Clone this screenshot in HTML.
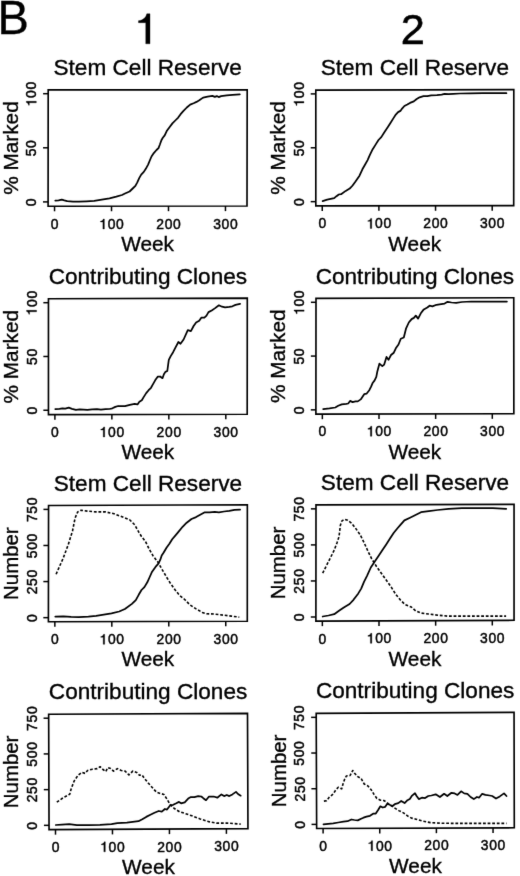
<!DOCTYPE html>
<html><head><meta charset="utf-8"><title>Figure B</title>
<style>
html,body{margin:0;padding:0;background:#fff;}
body{width:520px;height:876px;overflow:hidden;}
svg{display:block;}
.t{font-family:"Liberation Sans",sans-serif;fill:#000;stroke:#000;stroke-width:0.35px;}
.s{stroke-width:0.5px;}
.g{fill:#000;stroke:#000;stroke-width:0.35px;}
</style></head><body>
<svg width="520" height="876" viewBox="0 0 520 876">
<defs><filter id="soft" x="0" y="0" width="100%" height="100%" filterUnits="userSpaceOnUse" color-interpolation-filters="sRGB"><feConvolveMatrix order="3" kernelMatrix="0.0064 0.0672 0.0064 0.0672 0.7056 0.0672 0.0064 0.0672 0.0064" edgeMode="duplicate"/></filter></defs>
<g filter="url(#soft)">
<rect width="520" height="876" fill="#fff"/>
<text transform="translate(-2.6,33.6) scale(1,1.035)" font-size="47" class="t">B</text>
<path d="M149.98,43.80 L149.98,13.76 L146.82,13.76 C145.93,17.54 142.90,20.44 138.49,20.66 L138.49,22.71 L145.75,22.71 L145.75,43.80 Z" class="g"/>
<text x="412.9" y="44.2" font-size="43.3" class="t" text-anchor="middle" style="stroke-width:0.6px">2</text>
<path d="M48.20,89.90 L247.20,89.80 L247.00,206.00 L48.10,206.20 Z" fill="none" stroke="#000" stroke-width="1.65" stroke-linejoin="miter"/>
<line x1="54.55" y1="206.19" x2="54.55" y2="211.29" stroke="#000" stroke-width="1.5"/>
<g transform="translate(54.55,229.04) scale(1.0,0.98)"><text transform="translate(0.00,0) scale(0.92,1)" x="0" y="0" font-size="15.1" class="t s" text-anchor="middle">0</text></g>
<line x1="111.52" y1="206.14" x2="111.52" y2="211.24" stroke="#000" stroke-width="1.5"/>
<g transform="translate(111.52,228.99) scale(1.0,0.98)"><path d="M-7.17,0.00 L-7.17,-10.19 L-8.24,-10.19 C-8.55,-8.91 -9.57,-7.93 -11.07,-7.85 L-11.07,-7.16 L-8.61,-7.16 L-8.61,0.00 Z" class="g s"/><text transform="translate(0.00,0) scale(0.92,1)" x="0" y="0" font-size="15.1" class="t s" text-anchor="middle">0</text><text transform="translate(8.40,0) scale(0.92,1)" x="0" y="0" font-size="15.1" class="t s" text-anchor="middle">0</text></g>
<line x1="168.49" y1="206.08" x2="168.49" y2="211.18" stroke="#000" stroke-width="1.5"/>
<g transform="translate(168.49,228.93) scale(1.0,0.98)"><text transform="translate(-8.40,0) scale(0.92,1)" x="0" y="0" font-size="15.1" class="t s" text-anchor="middle">2</text><text transform="translate(0.00,0) scale(0.92,1)" x="0" y="0" font-size="15.1" class="t s" text-anchor="middle">0</text><text transform="translate(8.40,0) scale(0.92,1)" x="0" y="0" font-size="15.1" class="t s" text-anchor="middle">0</text></g>
<line x1="225.46" y1="206.02" x2="225.46" y2="211.12" stroke="#000" stroke-width="1.5"/>
<g transform="translate(225.46,228.87) scale(1.0,0.98)"><text transform="translate(-8.40,0) scale(0.92,1)" x="0" y="0" font-size="15.1" class="t s" text-anchor="middle">3</text><text transform="translate(0.00,0) scale(0.92,1)" x="0" y="0" font-size="15.1" class="t s" text-anchor="middle">0</text><text transform="translate(8.40,0) scale(0.92,1)" x="0" y="0" font-size="15.1" class="t s" text-anchor="middle">0</text></g>
<line x1="48.10" y1="201.90" x2="43.00" y2="201.90" stroke="#000" stroke-width="1.5"/>
<g transform="translate(36.20,202.35) rotate(-90) scale(1.0,0.98)"><text transform="translate(0.00,0) scale(0.92,1)" x="0" y="0" font-size="15.1" class="t s" text-anchor="middle">0</text></g>
<line x1="48.15" y1="147.80" x2="43.05" y2="147.80" stroke="#000" stroke-width="1.5"/>
<g transform="translate(36.25,148.25) rotate(-90) scale(1.0,0.98)"><text transform="translate(-4.20,0) scale(0.92,1)" x="0" y="0" font-size="15.1" class="t s" text-anchor="middle">5</text><text transform="translate(4.20,0) scale(0.92,1)" x="0" y="0" font-size="15.1" class="t s" text-anchor="middle">0</text></g>
<line x1="48.20" y1="93.70" x2="43.10" y2="93.70" stroke="#000" stroke-width="1.5"/>
<g transform="translate(36.30,94.15) rotate(-90) scale(1.0,0.98)"><path d="M-7.17,0.00 L-7.17,-10.19 L-8.24,-10.19 C-8.55,-8.91 -9.57,-7.93 -11.07,-7.85 L-11.07,-7.16 L-8.61,-7.16 L-8.61,0.00 Z" class="g s"/><text transform="translate(0.00,0) scale(0.92,1)" x="0" y="0" font-size="15.1" class="t s" text-anchor="middle">0</text><text transform="translate(8.40,0) scale(0.92,1)" x="0" y="0" font-size="15.1" class="t s" text-anchor="middle">0</text></g>
<text x="147.70" y="75.30" font-size="22.6" class="t" text-anchor="middle">Stem Cell Reserve</text>
<text x="147.55" y="251.30" font-size="20.8" class="t" text-anchor="middle">Week</text>
<text transform="translate(17.55,148.05) rotate(-90)" font-size="20.8" class="t" text-anchor="middle">% Marked</text>
<path d="M55.3,200.6 L58.6,200.4 L61.8,199.6 L64.3,200.4 L67.2,201.2 L73.0,201.7 L78.8,201.7 L86.5,201.3 L94.2,200.8 L101.8,199.6 L109.5,198.3 L116.3,196.7 L122.0,195.0 L125.0,193.5 L129.6,191.5 L132.7,188.5 L135.4,185.8 L137.3,182.3 L139.2,178.1 L141.2,174.6 L143.8,171.9 L145.8,168.8 L148.1,164.6 L150.0,160.0 L151.5,156.5 L153.8,153.1 L156.5,150.0 L158.5,148.1 L159.9,144.5 L161.4,140.2 L162.8,137.8 L164.7,135.4 L166.7,131.1 L169.5,127.2 L172.4,123.4 L175.3,120.5 L178.2,117.6 L180.6,114.2 L183.5,110.9 L186.8,107.5 L190.2,104.6 L193.6,103.2 L196.5,101.9 L199.3,100.3 L202.7,97.9 L204.3,97.3 L207.6,96.6 L212.4,95.9 L214.8,96.9 L216.8,96.1 L218.7,97.1 L221.1,96.1 L226.8,95.3 L232.6,94.8 L239.8,94.4" fill="none" stroke="#000" stroke-width="1.75" stroke-linejoin="round" stroke-linecap="round"/>
<path d="M315.80,90.15 L513.80,89.55 L513.70,205.60 L315.80,205.80 Z" fill="none" stroke="#000" stroke-width="1.65" stroke-linejoin="miter"/>
<line x1="322.25" y1="205.79" x2="322.25" y2="210.89" stroke="#000" stroke-width="1.5"/>
<g transform="translate(322.25,228.44) scale(1.0,0.98)"><text transform="translate(0.00,0) scale(0.92,1)" x="0" y="0" font-size="15.1" class="t s" text-anchor="middle">0</text></g>
<line x1="378.90" y1="205.74" x2="378.90" y2="210.84" stroke="#000" stroke-width="1.5"/>
<g transform="translate(378.90,228.39) scale(1.0,0.98)"><path d="M-7.17,0.00 L-7.17,-10.19 L-8.24,-10.19 C-8.55,-8.91 -9.57,-7.93 -11.07,-7.85 L-11.07,-7.16 L-8.61,-7.16 L-8.61,0.00 Z" class="g s"/><text transform="translate(0.00,0) scale(0.92,1)" x="0" y="0" font-size="15.1" class="t s" text-anchor="middle">0</text><text transform="translate(8.40,0) scale(0.92,1)" x="0" y="0" font-size="15.1" class="t s" text-anchor="middle">0</text></g>
<line x1="435.55" y1="205.68" x2="435.55" y2="210.78" stroke="#000" stroke-width="1.5"/>
<g transform="translate(435.55,228.33) scale(1.0,0.98)"><text transform="translate(-8.40,0) scale(0.92,1)" x="0" y="0" font-size="15.1" class="t s" text-anchor="middle">2</text><text transform="translate(0.00,0) scale(0.92,1)" x="0" y="0" font-size="15.1" class="t s" text-anchor="middle">0</text><text transform="translate(8.40,0) scale(0.92,1)" x="0" y="0" font-size="15.1" class="t s" text-anchor="middle">0</text></g>
<line x1="492.20" y1="205.62" x2="492.20" y2="210.72" stroke="#000" stroke-width="1.5"/>
<g transform="translate(492.20,228.27) scale(1.0,0.98)"><text transform="translate(-8.40,0) scale(0.92,1)" x="0" y="0" font-size="15.1" class="t s" text-anchor="middle">3</text><text transform="translate(0.00,0) scale(0.92,1)" x="0" y="0" font-size="15.1" class="t s" text-anchor="middle">0</text><text transform="translate(8.40,0) scale(0.92,1)" x="0" y="0" font-size="15.1" class="t s" text-anchor="middle">0</text></g>
<line x1="315.80" y1="201.65" x2="310.70" y2="201.65" stroke="#000" stroke-width="1.5"/>
<g transform="translate(303.90,202.10) rotate(-90) scale(1.0,0.98)"><text transform="translate(0.00,0) scale(0.92,1)" x="0" y="0" font-size="15.1" class="t s" text-anchor="middle">0</text></g>
<line x1="315.80" y1="147.78" x2="310.70" y2="147.78" stroke="#000" stroke-width="1.5"/>
<g transform="translate(303.90,148.22) rotate(-90) scale(1.0,0.98)"><text transform="translate(-4.20,0) scale(0.92,1)" x="0" y="0" font-size="15.1" class="t s" text-anchor="middle">5</text><text transform="translate(4.20,0) scale(0.92,1)" x="0" y="0" font-size="15.1" class="t s" text-anchor="middle">0</text></g>
<line x1="315.80" y1="93.90" x2="310.70" y2="93.90" stroke="#000" stroke-width="1.5"/>
<g transform="translate(303.90,94.35) rotate(-90) scale(1.0,0.98)"><path d="M-7.17,0.00 L-7.17,-10.19 L-8.24,-10.19 C-8.55,-8.91 -9.57,-7.93 -11.07,-7.85 L-11.07,-7.16 L-8.61,-7.16 L-8.61,0.00 Z" class="g s"/><text transform="translate(0.00,0) scale(0.92,1)" x="0" y="0" font-size="15.1" class="t s" text-anchor="middle">0</text><text transform="translate(8.40,0) scale(0.92,1)" x="0" y="0" font-size="15.1" class="t s" text-anchor="middle">0</text></g>
<text x="414.80" y="75.30" font-size="22.6" class="t" text-anchor="middle">Stem Cell Reserve</text>
<text x="414.75" y="250.55" font-size="20.8" class="t" text-anchor="middle">Week</text>
<text transform="translate(285.20,147.98) rotate(-90)" font-size="20.8" class="t" text-anchor="middle">% Marked</text>
<path d="M322.6,201.1 L327.2,199.7 L334.2,198.2 L336.5,196.2 L338.8,194.5 L341.1,194.2 L345.7,190.9 L349.7,188.6 L352.6,185.5 L355.5,181.5 L359.5,175.7 L362.4,169.3 L364.7,165.3 L367.6,160.1 L369.9,154.9 L372.7,149.2 L375.6,144.6 L378.5,140.0 L381.3,137.1 L384.2,132.5 L387.7,127.3 L390.6,122.7 L393.5,118.1 L395.8,114.6 L398.1,112.1 L400.4,110.9 L402.1,108.6 L404.4,106.0 L407.3,104.5 L410.0,102.9 L413.8,101.4 L416.7,99.0 L419.6,97.3 L423.5,96.1 L427.3,96.1 L431.2,95.4 L436.9,95.1 L441.7,94.7 L444.6,93.9 L448.5,94.2 L453.3,93.9 L460.0,93.5 L470.0,93.3 L482.7,93.2 L506.4,93.2" fill="none" stroke="#000" stroke-width="1.75" stroke-linejoin="round" stroke-linecap="round"/>
<path d="M48.45,298.75 L247.30,298.20 L247.20,414.20 L48.45,414.60 Z" fill="none" stroke="#000" stroke-width="1.65" stroke-linejoin="miter"/>
<line x1="54.90" y1="414.59" x2="54.90" y2="419.69" stroke="#000" stroke-width="1.5"/>
<g transform="translate(54.90,437.09) scale(1.0,0.98)"><text transform="translate(0.00,0) scale(0.92,1)" x="0" y="0" font-size="15.1" class="t s" text-anchor="middle">0</text></g>
<line x1="111.87" y1="414.47" x2="111.87" y2="419.57" stroke="#000" stroke-width="1.5"/>
<g transform="translate(111.87,436.97) scale(1.0,0.98)"><path d="M-7.17,0.00 L-7.17,-10.19 L-8.24,-10.19 C-8.55,-8.91 -9.57,-7.93 -11.07,-7.85 L-11.07,-7.16 L-8.61,-7.16 L-8.61,0.00 Z" class="g s"/><text transform="translate(0.00,0) scale(0.92,1)" x="0" y="0" font-size="15.1" class="t s" text-anchor="middle">0</text><text transform="translate(8.40,0) scale(0.92,1)" x="0" y="0" font-size="15.1" class="t s" text-anchor="middle">0</text></g>
<line x1="168.84" y1="414.36" x2="168.84" y2="419.46" stroke="#000" stroke-width="1.5"/>
<g transform="translate(168.84,436.86) scale(1.0,0.98)"><text transform="translate(-8.40,0) scale(0.92,1)" x="0" y="0" font-size="15.1" class="t s" text-anchor="middle">2</text><text transform="translate(0.00,0) scale(0.92,1)" x="0" y="0" font-size="15.1" class="t s" text-anchor="middle">0</text><text transform="translate(8.40,0) scale(0.92,1)" x="0" y="0" font-size="15.1" class="t s" text-anchor="middle">0</text></g>
<line x1="225.81" y1="414.24" x2="225.81" y2="419.34" stroke="#000" stroke-width="1.5"/>
<g transform="translate(225.81,436.74) scale(1.0,0.98)"><text transform="translate(-8.40,0) scale(0.92,1)" x="0" y="0" font-size="15.1" class="t s" text-anchor="middle">3</text><text transform="translate(0.00,0) scale(0.92,1)" x="0" y="0" font-size="15.1" class="t s" text-anchor="middle">0</text><text transform="translate(8.40,0) scale(0.92,1)" x="0" y="0" font-size="15.1" class="t s" text-anchor="middle">0</text></g>
<line x1="48.45" y1="410.25" x2="43.35" y2="410.25" stroke="#000" stroke-width="1.5"/>
<g transform="translate(36.55,410.70) rotate(-90) scale(1.0,0.98)"><text transform="translate(0.00,0) scale(0.92,1)" x="0" y="0" font-size="15.1" class="t s" text-anchor="middle">0</text></g>
<line x1="48.45" y1="356.48" x2="43.35" y2="356.48" stroke="#000" stroke-width="1.5"/>
<g transform="translate(36.55,356.93) rotate(-90) scale(1.0,0.98)"><text transform="translate(-4.20,0) scale(0.92,1)" x="0" y="0" font-size="15.1" class="t s" text-anchor="middle">5</text><text transform="translate(4.20,0) scale(0.92,1)" x="0" y="0" font-size="15.1" class="t s" text-anchor="middle">0</text></g>
<line x1="48.45" y1="302.70" x2="43.35" y2="302.70" stroke="#000" stroke-width="1.5"/>
<g transform="translate(36.55,303.15) rotate(-90) scale(1.0,0.98)"><path d="M-7.17,0.00 L-7.17,-10.19 L-8.24,-10.19 C-8.55,-8.91 -9.57,-7.93 -11.07,-7.85 L-11.07,-7.16 L-8.61,-7.16 L-8.61,0.00 Z" class="g s"/><text transform="translate(0.00,0) scale(0.92,1)" x="0" y="0" font-size="15.1" class="t s" text-anchor="middle">0</text><text transform="translate(8.40,0) scale(0.92,1)" x="0" y="0" font-size="15.1" class="t s" text-anchor="middle">0</text></g>
<text x="147.88" y="283.93" font-size="22.6" class="t" text-anchor="middle">Contributing Clones</text>
<text x="147.82" y="459.25" font-size="20.8" class="t" text-anchor="middle">Week</text>
<text transform="translate(17.85,356.68) rotate(-90)" font-size="20.8" class="t" text-anchor="middle">% Marked</text>
<path d="M55.3,409.2 L59.5,408.8 L62.4,408.3 L65.3,408.7 L68.8,407.7 L72.0,408.8 L75.9,409.8 L79.7,409.4 L83.6,409.6 L87.4,409.8 L92.2,409.4 L97.0,409.2 L100.9,409.6 L105.7,409.2 L109.5,409.0 L112.4,408.3 L115.3,406.9 L118.2,406.0 L122.0,406.2 L125.0,406.1 L129.8,404.8 L134.6,403.8 L137.5,404.4 L139.4,401.7 L141.8,400.3 L143.8,396.9 L146.2,393.1 L148.6,390.2 L151.0,387.8 L152.9,384.4 L155.3,380.1 L157.7,376.7 L160.1,376.5 L162.5,378.2 L163.9,374.3 L165.4,371.9 L167.3,371.0 L168.8,359.9 L170.7,356.1 L173.1,352.2 L175.3,347.8 L178.4,342.0 L180.5,343.7 L183.6,339.5 L187.8,330.2 L190.9,331.2 L193.6,326.0 L196.1,322.5 L199.2,320.8 L201.3,317.7 L204.4,317.7 L206.5,315.7 L208.5,312.1 L211.7,310.5 L214.8,308.4 L218.9,305.3 L222.0,306.7 L225.1,307.3 L229.3,306.9 L232.4,306.3 L235.5,304.9 L240.1,303.8" fill="none" stroke="#000" stroke-width="1.75" stroke-linejoin="round" stroke-linecap="round"/>
<path d="M316.00,298.35 L513.75,297.75 L513.85,413.70 L315.90,414.10 Z" fill="none" stroke="#000" stroke-width="1.65" stroke-linejoin="miter"/>
<line x1="322.35" y1="414.09" x2="322.35" y2="419.19" stroke="#000" stroke-width="1.5"/>
<g transform="translate(322.35,436.34) scale(1.0,0.98)"><text transform="translate(0.00,0) scale(0.92,1)" x="0" y="0" font-size="15.1" class="t s" text-anchor="middle">0</text></g>
<line x1="379.00" y1="413.97" x2="379.00" y2="419.07" stroke="#000" stroke-width="1.5"/>
<g transform="translate(379.00,436.22) scale(1.0,0.98)"><path d="M-7.17,0.00 L-7.17,-10.19 L-8.24,-10.19 C-8.55,-8.91 -9.57,-7.93 -11.07,-7.85 L-11.07,-7.16 L-8.61,-7.16 L-8.61,0.00 Z" class="g s"/><text transform="translate(0.00,0) scale(0.92,1)" x="0" y="0" font-size="15.1" class="t s" text-anchor="middle">0</text><text transform="translate(8.40,0) scale(0.92,1)" x="0" y="0" font-size="15.1" class="t s" text-anchor="middle">0</text></g>
<line x1="435.65" y1="413.86" x2="435.65" y2="418.96" stroke="#000" stroke-width="1.5"/>
<g transform="translate(435.65,436.11) scale(1.0,0.98)"><text transform="translate(-8.40,0) scale(0.92,1)" x="0" y="0" font-size="15.1" class="t s" text-anchor="middle">2</text><text transform="translate(0.00,0) scale(0.92,1)" x="0" y="0" font-size="15.1" class="t s" text-anchor="middle">0</text><text transform="translate(8.40,0) scale(0.92,1)" x="0" y="0" font-size="15.1" class="t s" text-anchor="middle">0</text></g>
<line x1="492.30" y1="413.74" x2="492.30" y2="418.84" stroke="#000" stroke-width="1.5"/>
<g transform="translate(492.30,435.99) scale(1.0,0.98)"><text transform="translate(-8.40,0) scale(0.92,1)" x="0" y="0" font-size="15.1" class="t s" text-anchor="middle">3</text><text transform="translate(0.00,0) scale(0.92,1)" x="0" y="0" font-size="15.1" class="t s" text-anchor="middle">0</text><text transform="translate(8.40,0) scale(0.92,1)" x="0" y="0" font-size="15.1" class="t s" text-anchor="middle">0</text></g>
<line x1="315.90" y1="409.85" x2="310.80" y2="409.85" stroke="#000" stroke-width="1.5"/>
<g transform="translate(304.00,410.30) rotate(-90) scale(1.0,0.98)"><text transform="translate(0.00,0) scale(0.92,1)" x="0" y="0" font-size="15.1" class="t s" text-anchor="middle">0</text></g>
<line x1="315.95" y1="356.08" x2="310.85" y2="356.08" stroke="#000" stroke-width="1.5"/>
<g transform="translate(304.05,356.53) rotate(-90) scale(1.0,0.98)"><text transform="translate(-4.20,0) scale(0.92,1)" x="0" y="0" font-size="15.1" class="t s" text-anchor="middle">5</text><text transform="translate(4.20,0) scale(0.92,1)" x="0" y="0" font-size="15.1" class="t s" text-anchor="middle">0</text></g>
<line x1="316.00" y1="302.30" x2="310.90" y2="302.30" stroke="#000" stroke-width="1.5"/>
<g transform="translate(304.10,302.75) rotate(-90) scale(1.0,0.98)"><path d="M-7.17,0.00 L-7.17,-10.19 L-8.24,-10.19 C-8.55,-8.91 -9.57,-7.93 -11.07,-7.85 L-11.07,-7.16 L-8.61,-7.16 L-8.61,0.00 Z" class="g s"/><text transform="translate(0.00,0) scale(0.92,1)" x="0" y="0" font-size="15.1" class="t s" text-anchor="middle">0</text><text transform="translate(8.40,0) scale(0.92,1)" x="0" y="0" font-size="15.1" class="t s" text-anchor="middle">0</text></g>
<text x="414.88" y="283.50" font-size="22.6" class="t" text-anchor="middle">Contributing Clones</text>
<text x="414.88" y="458.75" font-size="20.8" class="t" text-anchor="middle">Week</text>
<text transform="translate(285.35,356.23) rotate(-90)" font-size="20.8" class="t" text-anchor="middle">% Marked</text>
<path d="M323.2,409.2 L329.5,408.4 L335.3,407.5 L338.2,405.8 L341.7,404.4 L346.3,403.8 L348.2,403.5 L350.1,400.9 L352.6,402.1 L355.5,401.4 L357.8,401.4 L360.7,399.4 L364.2,394.2 L366.5,393.7 L369.3,390.2 L371.1,386.7 L372.8,382.7 L374.5,380.6 L376.3,376.9 L377.4,371.2 L379.4,363.7 L382.3,366.2 L384.2,364.6 L386.5,356.9 L388.5,359.8 L391.0,355.0 L393.8,352.7 L395.8,348.3 L398.5,344.5 L400.8,338.7 L403.8,337.5 L406.1,328.3 L408.8,322.5 L411.6,319.1 L413.9,317.9 L415.8,315.6 L418.1,318.6 L420.8,313.3 L423.8,309.4 L427.3,307.5 L429.6,305.7 L432.4,306.4 L436.5,304.8 L441.2,304.1 L444.6,303.6 L447.6,301.8 L451.5,302.5 L456.2,302.9 L461.9,302.0 L471.2,301.5 L487.3,301.5 L506.9,301.5" fill="none" stroke="#000" stroke-width="1.75" stroke-linejoin="round" stroke-linecap="round"/>
<path d="M48.55,505.55 L247.35,504.75 L247.30,621.20 L48.40,621.75 Z" fill="none" stroke="#000" stroke-width="1.65" stroke-linejoin="miter"/>
<line x1="54.85" y1="621.73" x2="54.85" y2="626.83" stroke="#000" stroke-width="1.5"/>
<g transform="translate(54.85,644.48) scale(1.0,0.98)"><text transform="translate(0.00,0) scale(0.92,1)" x="0" y="0" font-size="15.1" class="t s" text-anchor="middle">0</text></g>
<line x1="111.82" y1="621.57" x2="111.82" y2="626.67" stroke="#000" stroke-width="1.5"/>
<g transform="translate(111.82,644.32) scale(1.0,0.98)"><path d="M-7.17,0.00 L-7.17,-10.19 L-8.24,-10.19 C-8.55,-8.91 -9.57,-7.93 -11.07,-7.85 L-11.07,-7.16 L-8.61,-7.16 L-8.61,0.00 Z" class="g s"/><text transform="translate(0.00,0) scale(0.92,1)" x="0" y="0" font-size="15.1" class="t s" text-anchor="middle">0</text><text transform="translate(8.40,0) scale(0.92,1)" x="0" y="0" font-size="15.1" class="t s" text-anchor="middle">0</text></g>
<line x1="168.79" y1="621.42" x2="168.79" y2="626.52" stroke="#000" stroke-width="1.5"/>
<g transform="translate(168.79,644.17) scale(1.0,0.98)"><text transform="translate(-8.40,0) scale(0.92,1)" x="0" y="0" font-size="15.1" class="t s" text-anchor="middle">2</text><text transform="translate(0.00,0) scale(0.92,1)" x="0" y="0" font-size="15.1" class="t s" text-anchor="middle">0</text><text transform="translate(8.40,0) scale(0.92,1)" x="0" y="0" font-size="15.1" class="t s" text-anchor="middle">0</text></g>
<line x1="225.76" y1="621.26" x2="225.76" y2="626.36" stroke="#000" stroke-width="1.5"/>
<g transform="translate(225.76,644.01) scale(1.0,0.98)"><text transform="translate(-8.40,0) scale(0.92,1)" x="0" y="0" font-size="15.1" class="t s" text-anchor="middle">3</text><text transform="translate(0.00,0) scale(0.92,1)" x="0" y="0" font-size="15.1" class="t s" text-anchor="middle">0</text><text transform="translate(8.40,0) scale(0.92,1)" x="0" y="0" font-size="15.1" class="t s" text-anchor="middle">0</text></g>
<line x1="48.41" y1="617.65" x2="43.31" y2="617.65" stroke="#000" stroke-width="1.5"/>
<g transform="translate(36.51,618.10) rotate(-90) scale(1.0,0.98)"><text transform="translate(0.00,0) scale(0.92,1)" x="0" y="0" font-size="15.1" class="t s" text-anchor="middle">0</text></g>
<line x1="48.45" y1="581.57" x2="43.35" y2="581.57" stroke="#000" stroke-width="1.5"/>
<g transform="translate(36.55,582.02) rotate(-90) scale(1.0,0.98)"><text transform="translate(-8.40,0) scale(0.92,1)" x="0" y="0" font-size="15.1" class="t s" text-anchor="middle">2</text><text transform="translate(0.00,0) scale(0.92,1)" x="0" y="0" font-size="15.1" class="t s" text-anchor="middle">5</text><text transform="translate(8.40,0) scale(0.92,1)" x="0" y="0" font-size="15.1" class="t s" text-anchor="middle">0</text></g>
<line x1="48.50" y1="545.48" x2="43.40" y2="545.48" stroke="#000" stroke-width="1.5"/>
<g transform="translate(36.60,545.93) rotate(-90) scale(1.0,0.98)"><text transform="translate(-8.40,0) scale(0.92,1)" x="0" y="0" font-size="15.1" class="t s" text-anchor="middle">5</text><text transform="translate(0.00,0) scale(0.92,1)" x="0" y="0" font-size="15.1" class="t s" text-anchor="middle">0</text><text transform="translate(8.40,0) scale(0.92,1)" x="0" y="0" font-size="15.1" class="t s" text-anchor="middle">0</text></g>
<line x1="48.55" y1="509.40" x2="43.45" y2="509.40" stroke="#000" stroke-width="1.5"/>
<g transform="translate(36.65,509.85) rotate(-90) scale(1.0,0.98)"><text transform="translate(-8.40,0) scale(0.92,1)" x="0" y="0" font-size="15.1" class="t s" text-anchor="middle">7</text><text transform="translate(0.00,0) scale(0.92,1)" x="0" y="0" font-size="15.1" class="t s" text-anchor="middle">5</text><text transform="translate(8.40,0) scale(0.92,1)" x="0" y="0" font-size="15.1" class="t s" text-anchor="middle">0</text></g>
<text x="147.95" y="490.60" font-size="22.6" class="t" text-anchor="middle">Stem Cell Reserve</text>
<text x="147.85" y="666.33" font-size="20.8" class="t" text-anchor="middle">Week</text>
<text transform="translate(17.87,563.65) rotate(-90)" font-size="20.4" class="t" text-anchor="middle">Number</text>
<path d="M55.3,616.7 L63.4,616.3 L71.1,616.9 L78.8,617.1 L88.4,616.7 L96.1,615.8 L103.8,614.6 L111.5,613.3 L119.2,611.5 L124.9,609.0 L131.9,603.9 L135.8,600.1 L138.7,594.8 L141.5,590.0 L144.4,587.1 L147.3,582.3 L149.7,577.0 L152.1,571.7 L155.5,566.9 L158.4,563.6 L160.3,559.7 L161.7,555.4 L163.7,552.5 L166.5,547.7 L169.4,543.8 L172.2,539.3 L177.4,533.1 L182.6,526.8 L186.7,522.7 L191.5,519.0 L196.1,517.1 L200.2,514.8 L204.8,512.3 L209.6,512.3 L214.8,511.9 L218.9,512.3 L224.1,511.5 L229.3,510.9 L234.5,509.8 L240.1,509.6" fill="none" stroke="#000" stroke-width="1.75" stroke-linejoin="round" stroke-linecap="round"/>
<path d="M56.1,574.2 L63.0,558.6 L68.2,544.8 L72.5,531.0 L75.1,518.0 L77.7,511.9 L81.1,510.2 L87.2,511.1 L95.8,511.9 L105.4,511.9 L114.0,513.7 L122.7,517.1 L129.6,519.7 L134.8,524.9 L139.1,532.7 L141.5,536.5 L145.4,541.4 L149.2,549.1 L153.1,555.9 L157.9,562.1 L161.7,568.8 L166.5,577.0 L170.4,583.3 L175.2,590.0 L179.5,595.3 L184.7,599.5 L189.8,604.7 L196.1,608.9 L202.3,612.4 L206.5,613.7 L214.8,614.1 L223.1,615.1 L231.4,616.1 L239.3,617.2" fill="none" stroke="#000" stroke-width="1.6" stroke-dasharray="2.8 1.8" stroke-linejoin="round" stroke-linecap="butt"/>
<path d="M316.00,504.90 L514.05,504.40 L514.05,620.30 L315.90,621.05 Z" fill="none" stroke="#000" stroke-width="1.65" stroke-linejoin="miter"/>
<line x1="322.35" y1="621.03" x2="322.35" y2="626.13" stroke="#000" stroke-width="1.5"/>
<g transform="translate(322.35,643.53) scale(1.0,0.98)"><text transform="translate(0.00,0) scale(0.92,1)" x="0" y="0" font-size="15.1" class="t s" text-anchor="middle">0</text></g>
<line x1="379.00" y1="620.81" x2="379.00" y2="625.91" stroke="#000" stroke-width="1.5"/>
<g transform="translate(379.00,643.31) scale(1.0,0.98)"><path d="M-7.17,0.00 L-7.17,-10.19 L-8.24,-10.19 C-8.55,-8.91 -9.57,-7.93 -11.07,-7.85 L-11.07,-7.16 L-8.61,-7.16 L-8.61,0.00 Z" class="g s"/><text transform="translate(0.00,0) scale(0.92,1)" x="0" y="0" font-size="15.1" class="t s" text-anchor="middle">0</text><text transform="translate(8.40,0) scale(0.92,1)" x="0" y="0" font-size="15.1" class="t s" text-anchor="middle">0</text></g>
<line x1="435.65" y1="620.60" x2="435.65" y2="625.70" stroke="#000" stroke-width="1.5"/>
<g transform="translate(435.65,643.10) scale(1.0,0.98)"><text transform="translate(-8.40,0) scale(0.92,1)" x="0" y="0" font-size="15.1" class="t s" text-anchor="middle">2</text><text transform="translate(0.00,0) scale(0.92,1)" x="0" y="0" font-size="15.1" class="t s" text-anchor="middle">0</text><text transform="translate(8.40,0) scale(0.92,1)" x="0" y="0" font-size="15.1" class="t s" text-anchor="middle">0</text></g>
<line x1="492.30" y1="620.38" x2="492.30" y2="625.48" stroke="#000" stroke-width="1.5"/>
<g transform="translate(492.30,642.88) scale(1.0,0.98)"><text transform="translate(-8.40,0) scale(0.92,1)" x="0" y="0" font-size="15.1" class="t s" text-anchor="middle">3</text><text transform="translate(0.00,0) scale(0.92,1)" x="0" y="0" font-size="15.1" class="t s" text-anchor="middle">0</text><text transform="translate(8.40,0) scale(0.92,1)" x="0" y="0" font-size="15.1" class="t s" text-anchor="middle">0</text></g>
<line x1="315.90" y1="617.00" x2="310.80" y2="617.00" stroke="#000" stroke-width="1.5"/>
<g transform="translate(304.00,617.45) rotate(-90) scale(1.0,0.98)"><text transform="translate(0.00,0) scale(0.92,1)" x="0" y="0" font-size="15.1" class="t s" text-anchor="middle">0</text></g>
<line x1="315.93" y1="580.95" x2="310.83" y2="580.95" stroke="#000" stroke-width="1.5"/>
<g transform="translate(304.03,581.40) rotate(-90) scale(1.0,0.98)"><text transform="translate(-8.40,0) scale(0.92,1)" x="0" y="0" font-size="15.1" class="t s" text-anchor="middle">2</text><text transform="translate(0.00,0) scale(0.92,1)" x="0" y="0" font-size="15.1" class="t s" text-anchor="middle">5</text><text transform="translate(8.40,0) scale(0.92,1)" x="0" y="0" font-size="15.1" class="t s" text-anchor="middle">0</text></g>
<line x1="315.97" y1="544.90" x2="310.87" y2="544.90" stroke="#000" stroke-width="1.5"/>
<g transform="translate(304.07,545.35) rotate(-90) scale(1.0,0.98)"><text transform="translate(-8.40,0) scale(0.92,1)" x="0" y="0" font-size="15.1" class="t s" text-anchor="middle">5</text><text transform="translate(0.00,0) scale(0.92,1)" x="0" y="0" font-size="15.1" class="t s" text-anchor="middle">0</text><text transform="translate(8.40,0) scale(0.92,1)" x="0" y="0" font-size="15.1" class="t s" text-anchor="middle">0</text></g>
<line x1="316.00" y1="508.85" x2="310.90" y2="508.85" stroke="#000" stroke-width="1.5"/>
<g transform="translate(304.10,509.30) rotate(-90) scale(1.0,0.98)"><text transform="translate(-8.40,0) scale(0.92,1)" x="0" y="0" font-size="15.1" class="t s" text-anchor="middle">7</text><text transform="translate(0.00,0) scale(0.92,1)" x="0" y="0" font-size="15.1" class="t s" text-anchor="middle">5</text><text transform="translate(8.40,0) scale(0.92,1)" x="0" y="0" font-size="15.1" class="t s" text-anchor="middle">0</text></g>
<text x="415.02" y="490.10" font-size="22.6" class="t" text-anchor="middle">Stem Cell Reserve</text>
<text x="414.97" y="665.52" font-size="20.8" class="t" text-anchor="middle">Week</text>
<text transform="translate(285.35,562.97) rotate(-90)" font-size="20.4" class="t" text-anchor="middle">Number</text>
<path d="M322.7,616.5 L328.5,615.5 L334.2,614.2 L339.0,610.7 L343.8,607.5 L349.6,604.0 L353.5,599.8 L358.3,593.4 L361.2,588.6 L364.0,581.9 L366.9,576.1 L370.8,567.5 L374.6,561.7 L378.5,555.9 L382.3,550.2 L386.2,544.4 L390.0,538.6 L393.8,532.8 L397.7,528.0 L400.0,525.4 L404.4,520.4 L410.0,517.7 L415.5,515.0 L421.0,512.2 L428.8,511.1 L437.6,510.0 L448.7,508.8 L461.9,508.2 L477.4,508.2 L492.9,508.2 L506.2,508.8" fill="none" stroke="#000" stroke-width="1.75" stroke-linejoin="round" stroke-linecap="round"/>
<path d="M322.7,573.2 L326.5,565.5 L330.4,557.8 L334.2,550.2 L337.1,542.5 L339.0,536.7 L340.4,525.2 L341.9,520.9 L344.8,519.4 L347.7,520.3 L351.5,523.2 L355.4,528.0 L360.2,534.8 L364.0,542.5 L367.9,551.1 L371.7,558.8 L376.5,566.5 L381.3,573.2 L386.2,580.0 L391.0,586.7 L395.8,594.4 L400.6,600.2 L405.0,604.5 L411.3,607.0 L415.6,610.8 L420.9,613.0 L428.3,614.0 L438.8,615.3 L447.3,616.1 L468.5,616.1 L489.6,616.1 L506.1,616.1" fill="none" stroke="#000" stroke-width="1.6" stroke-dasharray="2.8 1.8" stroke-linejoin="round" stroke-linecap="butt"/>
<path d="M48.65,714.20 L247.50,713.40 L247.95,828.65 L49.05,829.60 Z" fill="none" stroke="#000" stroke-width="1.65" stroke-linejoin="miter"/>
<line x1="55.50" y1="829.57" x2="55.50" y2="834.67" stroke="#000" stroke-width="1.5"/>
<g transform="translate(55.50,852.07) scale(1.0,0.98)"><text transform="translate(0.00,0) scale(0.92,1)" x="0" y="0" font-size="15.1" class="t s" text-anchor="middle">0</text></g>
<line x1="112.47" y1="829.30" x2="112.47" y2="834.40" stroke="#000" stroke-width="1.5"/>
<g transform="translate(112.47,851.80) scale(1.0,0.98)"><path d="M-7.17,0.00 L-7.17,-10.19 L-8.24,-10.19 C-8.55,-8.91 -9.57,-7.93 -11.07,-7.85 L-11.07,-7.16 L-8.61,-7.16 L-8.61,0.00 Z" class="g s"/><text transform="translate(0.00,0) scale(0.92,1)" x="0" y="0" font-size="15.1" class="t s" text-anchor="middle">0</text><text transform="translate(8.40,0) scale(0.92,1)" x="0" y="0" font-size="15.1" class="t s" text-anchor="middle">0</text></g>
<line x1="169.44" y1="829.02" x2="169.44" y2="834.12" stroke="#000" stroke-width="1.5"/>
<g transform="translate(169.44,851.52) scale(1.0,0.98)"><text transform="translate(-8.40,0) scale(0.92,1)" x="0" y="0" font-size="15.1" class="t s" text-anchor="middle">2</text><text transform="translate(0.00,0) scale(0.92,1)" x="0" y="0" font-size="15.1" class="t s" text-anchor="middle">0</text><text transform="translate(8.40,0) scale(0.92,1)" x="0" y="0" font-size="15.1" class="t s" text-anchor="middle">0</text></g>
<line x1="226.41" y1="828.75" x2="226.41" y2="833.85" stroke="#000" stroke-width="1.5"/>
<g transform="translate(226.41,851.25) scale(1.0,0.98)"><text transform="translate(-8.40,0) scale(0.92,1)" x="0" y="0" font-size="15.1" class="t s" text-anchor="middle">3</text><text transform="translate(0.00,0) scale(0.92,1)" x="0" y="0" font-size="15.1" class="t s" text-anchor="middle">0</text><text transform="translate(8.40,0) scale(0.92,1)" x="0" y="0" font-size="15.1" class="t s" text-anchor="middle">0</text></g>
<line x1="49.04" y1="825.35" x2="43.94" y2="825.35" stroke="#000" stroke-width="1.5"/>
<g transform="translate(37.14,825.80) rotate(-90) scale(1.0,0.98)"><text transform="translate(0.00,0) scale(0.92,1)" x="0" y="0" font-size="15.1" class="t s" text-anchor="middle">0</text></g>
<line x1="48.91" y1="789.63" x2="43.81" y2="789.63" stroke="#000" stroke-width="1.5"/>
<g transform="translate(37.01,790.08) rotate(-90) scale(1.0,0.98)"><text transform="translate(-8.40,0) scale(0.92,1)" x="0" y="0" font-size="15.1" class="t s" text-anchor="middle">2</text><text transform="translate(0.00,0) scale(0.92,1)" x="0" y="0" font-size="15.1" class="t s" text-anchor="middle">5</text><text transform="translate(8.40,0) scale(0.92,1)" x="0" y="0" font-size="15.1" class="t s" text-anchor="middle">0</text></g>
<line x1="48.79" y1="753.92" x2="43.69" y2="753.92" stroke="#000" stroke-width="1.5"/>
<g transform="translate(36.89,754.37) rotate(-90) scale(1.0,0.98)"><text transform="translate(-8.40,0) scale(0.92,1)" x="0" y="0" font-size="15.1" class="t s" text-anchor="middle">5</text><text transform="translate(0.00,0) scale(0.92,1)" x="0" y="0" font-size="15.1" class="t s" text-anchor="middle">0</text><text transform="translate(8.40,0) scale(0.92,1)" x="0" y="0" font-size="15.1" class="t s" text-anchor="middle">0</text></g>
<line x1="48.66" y1="718.20" x2="43.56" y2="718.20" stroke="#000" stroke-width="1.5"/>
<g transform="translate(36.76,718.65) rotate(-90) scale(1.0,0.98)"><text transform="translate(-8.40,0) scale(0.92,1)" x="0" y="0" font-size="15.1" class="t s" text-anchor="middle">7</text><text transform="translate(0.00,0) scale(0.92,1)" x="0" y="0" font-size="15.1" class="t s" text-anchor="middle">5</text><text transform="translate(8.40,0) scale(0.92,1)" x="0" y="0" font-size="15.1" class="t s" text-anchor="middle">0</text></g>
<text x="148.07" y="699.25" font-size="22.6" class="t" text-anchor="middle">Contributing Clones</text>
<text x="148.50" y="873.98" font-size="20.8" class="t" text-anchor="middle">Week</text>
<text transform="translate(18.25,771.90) rotate(-90)" font-size="20.4" class="t" text-anchor="middle">Number</text>
<path d="M55.8,825.0 L62.0,824.6 L69.2,824.2 L76.9,825.1 L88.5,825.1 L100.0,824.8 L111.5,824.2 L117.3,823.1 L126.9,822.7 L134.6,821.7 L138.5,821.2 L142.3,819.2 L146.2,816.9 L150.4,814.8 L154.5,812.7 L158.7,811.0 L161.8,811.7 L164.9,809.0 L167.0,809.6 L170.1,805.4 L173.2,804.8 L176.3,803.3 L179.0,801.9 L181.1,803.3 L184.7,802.3 L188.2,798.6 L190.9,797.1 L194.4,797.1 L198.2,796.1 L201.3,796.5 L203.3,798.2 L206.0,800.2 L209.0,796.5 L213.7,796.5 L217.3,797.7 L221.4,794.4 L224.1,796.1 L226.8,795.0 L229.3,796.1 L232.4,794.4 L236.0,791.9 L238.0,794.0 L240.7,795.7" fill="none" stroke="#000" stroke-width="1.75" stroke-linejoin="round" stroke-linecap="round"/>
<path d="M56.8,802.2 L61.6,798.8 L65.5,796.5 L69.7,794.2 L71.2,788.8 L74.1,781.1 L78.0,775.3 L81.8,772.4 L85.1,773.4 L87.6,770.5 L92.4,769.2 L97.2,768.6 L100.1,766.7 L103.0,769.5 L105.8,771.5 L107.8,767.6 L110.7,768.6 L113.5,771.1 L117.4,768.6 L121.2,770.5 L125.1,771.1 L128.9,774.9 L132.8,771.1 L136.6,772.4 L139.5,775.3 L142.0,774.9 L144.3,778.2 L148.2,783.0 L152.5,787.8 L156.6,792.3 L160.8,793.6 L163.9,794.4 L167.0,799.2 L170.1,804.4 L174.3,808.5 L179.5,811.7 L185.7,813.7 L191.9,815.8 L200.2,818.9 L208.5,821.6 L216.8,823.1 L227.2,823.1 L240.7,824.1" fill="none" stroke="#000" stroke-width="1.6" stroke-dasharray="2.8 1.8" stroke-linejoin="round" stroke-linecap="butt"/>
<path d="M316.20,713.30 L514.05,712.40 L514.30,827.80 L316.65,828.50 Z" fill="none" stroke="#000" stroke-width="1.65" stroke-linejoin="miter"/>
<line x1="323.10" y1="828.48" x2="323.10" y2="833.58" stroke="#000" stroke-width="1.5"/>
<g transform="translate(323.10,850.83) scale(1.0,0.98)"><text transform="translate(0.00,0) scale(0.92,1)" x="0" y="0" font-size="15.1" class="t s" text-anchor="middle">0</text></g>
<line x1="379.75" y1="828.28" x2="379.75" y2="833.38" stroke="#000" stroke-width="1.5"/>
<g transform="translate(379.75,850.63) scale(1.0,0.98)"><path d="M-7.17,0.00 L-7.17,-10.19 L-8.24,-10.19 C-8.55,-8.91 -9.57,-7.93 -11.07,-7.85 L-11.07,-7.16 L-8.61,-7.16 L-8.61,0.00 Z" class="g s"/><text transform="translate(0.00,0) scale(0.92,1)" x="0" y="0" font-size="15.1" class="t s" text-anchor="middle">0</text><text transform="translate(8.40,0) scale(0.92,1)" x="0" y="0" font-size="15.1" class="t s" text-anchor="middle">0</text></g>
<line x1="436.40" y1="828.08" x2="436.40" y2="833.18" stroke="#000" stroke-width="1.5"/>
<g transform="translate(436.40,850.43) scale(1.0,0.98)"><text transform="translate(-8.40,0) scale(0.92,1)" x="0" y="0" font-size="15.1" class="t s" text-anchor="middle">2</text><text transform="translate(0.00,0) scale(0.92,1)" x="0" y="0" font-size="15.1" class="t s" text-anchor="middle">0</text><text transform="translate(8.40,0) scale(0.92,1)" x="0" y="0" font-size="15.1" class="t s" text-anchor="middle">0</text></g>
<line x1="493.05" y1="827.88" x2="493.05" y2="832.98" stroke="#000" stroke-width="1.5"/>
<g transform="translate(493.05,850.23) scale(1.0,0.98)"><text transform="translate(-8.40,0) scale(0.92,1)" x="0" y="0" font-size="15.1" class="t s" text-anchor="middle">3</text><text transform="translate(0.00,0) scale(0.92,1)" x="0" y="0" font-size="15.1" class="t s" text-anchor="middle">0</text><text transform="translate(8.40,0) scale(0.92,1)" x="0" y="0" font-size="15.1" class="t s" text-anchor="middle">0</text></g>
<line x1="316.63" y1="824.40" x2="311.53" y2="824.40" stroke="#000" stroke-width="1.5"/>
<g transform="translate(304.73,824.85) rotate(-90) scale(1.0,0.98)"><text transform="translate(0.00,0) scale(0.92,1)" x="0" y="0" font-size="15.1" class="t s" text-anchor="middle">0</text></g>
<line x1="316.49" y1="788.72" x2="311.39" y2="788.72" stroke="#000" stroke-width="1.5"/>
<g transform="translate(304.59,789.17) rotate(-90) scale(1.0,0.98)"><text transform="translate(-8.40,0) scale(0.92,1)" x="0" y="0" font-size="15.1" class="t s" text-anchor="middle">2</text><text transform="translate(0.00,0) scale(0.92,1)" x="0" y="0" font-size="15.1" class="t s" text-anchor="middle">5</text><text transform="translate(8.40,0) scale(0.92,1)" x="0" y="0" font-size="15.1" class="t s" text-anchor="middle">0</text></g>
<line x1="316.36" y1="753.03" x2="311.26" y2="753.03" stroke="#000" stroke-width="1.5"/>
<g transform="translate(304.46,753.48) rotate(-90) scale(1.0,0.98)"><text transform="translate(-8.40,0) scale(0.92,1)" x="0" y="0" font-size="15.1" class="t s" text-anchor="middle">5</text><text transform="translate(0.00,0) scale(0.92,1)" x="0" y="0" font-size="15.1" class="t s" text-anchor="middle">0</text><text transform="translate(8.40,0) scale(0.92,1)" x="0" y="0" font-size="15.1" class="t s" text-anchor="middle">0</text></g>
<line x1="316.22" y1="717.35" x2="311.12" y2="717.35" stroke="#000" stroke-width="1.5"/>
<g transform="translate(304.32,717.80) rotate(-90) scale(1.0,0.98)"><text transform="translate(-8.40,0) scale(0.92,1)" x="0" y="0" font-size="15.1" class="t s" text-anchor="middle">7</text><text transform="translate(0.00,0) scale(0.92,1)" x="0" y="0" font-size="15.1" class="t s" text-anchor="middle">5</text><text transform="translate(8.40,0) scale(0.92,1)" x="0" y="0" font-size="15.1" class="t s" text-anchor="middle">0</text></g>
<text x="415.12" y="698.30" font-size="22.6" class="t" text-anchor="middle">Contributing Clones</text>
<text x="415.47" y="873.00" font-size="20.8" class="t" text-anchor="middle">Week</text>
<text transform="translate(285.82,770.90) rotate(-90)" font-size="20.4" class="t" text-anchor="middle">Number</text>
<path d="M323.5,824.4 L328.2,823.8 L333.2,823.3 L338.3,822.5 L343.4,821.6 L347.6,821.2 L351.4,819.5 L354.4,820.0 L357.8,820.4 L361.1,818.7 L363.5,817.7 L366.5,816.7 L370.0,815.8 L373.5,813.5 L375.8,813.5 L378.1,810.0 L380.4,806.3 L382.7,807.5 L385.2,806.8 L387.3,803.7 L389.6,804.8 L392.5,806.0 L394.8,804.2 L398.3,803.1 L401.2,801.0 L404.6,803.1 L407.5,800.2 L409.8,799.0 L412.1,795.6 L415.0,793.3 L416.6,796.0 L418.8,799.1 L421.9,797.7 L425.1,798.1 L428.3,796.0 L431.4,795.5 L435.7,794.3 L439.9,797.0 L444.1,793.8 L447.3,796.0 L451.5,792.8 L454.7,793.4 L457.5,794.9 L461.1,791.3 L464.2,793.4 L467.4,793.8 L470.6,797.0 L473.8,799.1 L476.9,797.0 L479.0,797.7 L482.2,793.8 L485.4,794.9 L489.6,795.5 L492.2,796.0 L496.0,798.5 L499.8,796.4 L504.0,793.4 L506.5,796.0" fill="none" stroke="#000" stroke-width="1.75" stroke-linejoin="round" stroke-linecap="round"/>
<path d="M323.9,801.1 L326.5,800.7 L329.4,797.1 L333.2,794.0 L335.8,789.9 L338.3,787.2 L341.7,788.9 L343.0,784.0 L344.6,779.3 L346.3,776.0 L350.1,775.5 L352.7,770.5 L354.4,773.0 L357.3,776.4 L361.1,778.5 L364.2,784.0 L367.7,785.8 L371.2,789.8 L374.0,794.4 L376.9,798.5 L380.4,800.2 L383.8,800.5 L386.2,801.9 L389.6,804.8 L394.2,807.7 L398.8,810.6 L403.5,812.9 L408.1,816.3 L411.5,818.1 L415.0,818.9 L421.9,820.9 L430.4,822.6 L443.1,823.3 L468.5,823.4 L506.5,823.4" fill="none" stroke="#000" stroke-width="1.6" stroke-dasharray="2.8 1.8" stroke-linejoin="round" stroke-linecap="butt"/>
</g>
</svg>
</body></html>
